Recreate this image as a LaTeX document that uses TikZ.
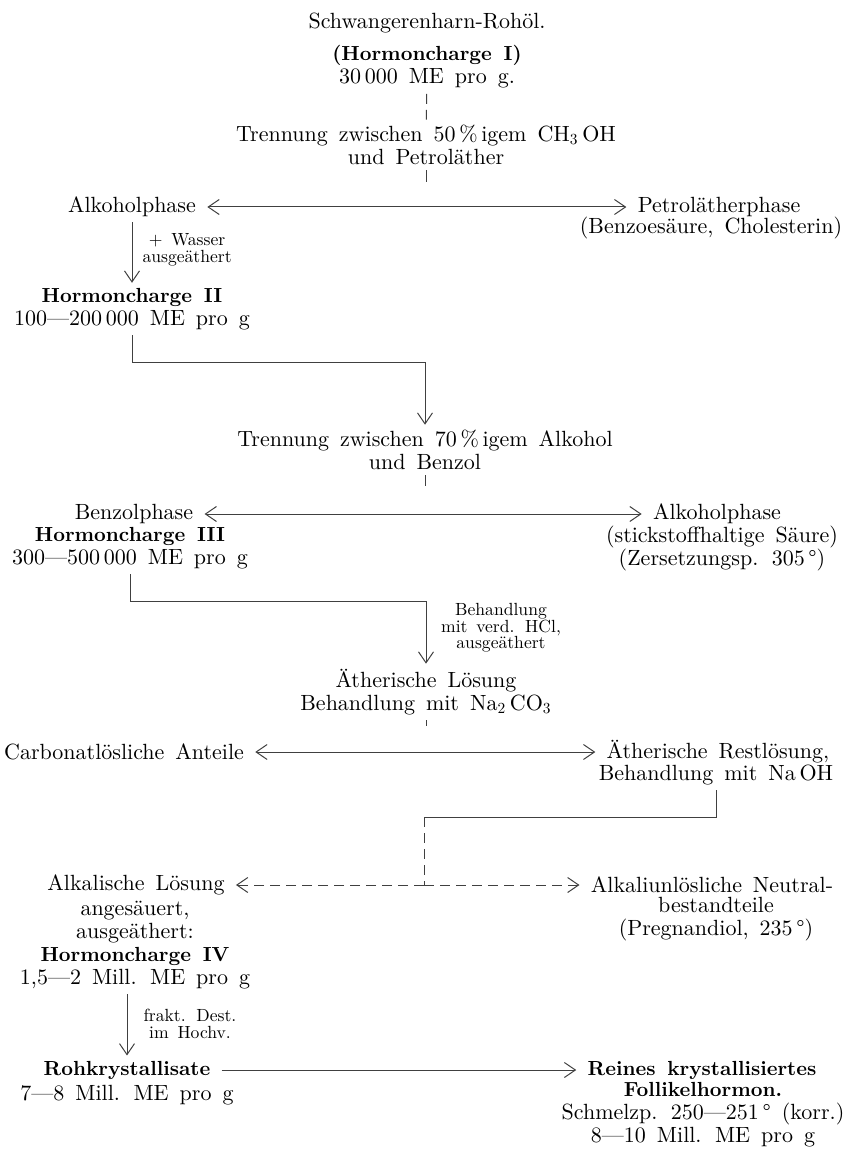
\documentclass[tikz,border=0pt]{standalone}
\usepackage{fontspec}
\setmainfont{lmroman10-regular.otf}[BoldFont=lmroman10-bold.otf, WordSpace=1.5]
\usetikzlibrary{arrows.meta}
\setlength{\lineskiplimit}{-20pt}
\newcommand{\hfett}[1]{{\fontsize{10.2}{11.5}\selectfont\bfseries #1}}

\begin{document}
\begin{tikzpicture}[x=0.5pt, y=-0.5pt, >={Straight Barb[length=5.5pt,width=7.5pt]},
    every node/.style={font=\fontsize{11}{11.5}\selectfont, inner sep=2.5pt, align=center},
    linie/.style={draw=black!75, line width=0.5pt},
    quer/.style={linie, shorten <=3pt, shorten >=3pt},
    schwach/.style={linie, dash pattern=on 5pt off 3pt},
    notiz/.style={font=\fontsize{8.8}{8.3}\selectfont, inner sep=1pt, align=center}]
    \useasboundingbox (0,0) rectangle (844,1150);

    % 1. Ausgangsmaterial und erste Trennung
    \node (titel) at (427,23) {Schwangerenharn-Rohöl.};
    \node (hc1) at (427,67) {\hfett{(Hormoncharge I)}\\30\,000 ME pro g.};
    \node (trenn50) at (426,145) {Trennung zwischen 50\,\%\,igem CH\textsubscript{3}\,OH\\und Petroläther};
    \coordinate (teil1) at (426,182);
    \draw[schwach] (hc1) -- (trenn50);
    \draw[linie] (trenn50) -- (teil1);

    \node (alk1) at (132,207) {Alkoholphase};
    \node (petrol1) at (719,207) {Petrolätherphase};
    \node (petrol2) at (711,228) {(Benzoesäure, Cholesterin)};
    \draw[quer,<->] (alk1) -- (petrol1);

    % 2. Hormoncharge II
    \node (hc2) at (132,309) {\hfett{Hormoncharge II}\\100---200\,000 ME pro g};
    \draw[linie,->] (alk1) -- (hc2)
        node[notiz, right=4pt, pos=0.45] {+ Wasser\\ausgeäthert};
    \coordinate (knick2) at (132,362);
    \node (trenn70) at (425,450) {Trennung zwischen 70\,\%\,igem Alkohol\\und Benzol};
    \draw[linie,->] (hc2) -- (knick2) -| (trenn70);
    \coordinate (teil2) at (425,486);
    \draw[linie] (trenn70) -- (teil2);

    % 3. Benzolphase / Hormoncharge III
    \node (benz) at (134,514) {Benzolphase};
    \node (alk2) at (717,514) {Alkoholphase};
    \node (alk2b) at (722,548) {(stickstoffhaltige Säure)\\(Zersetzungsp. 305\,°)};
    \draw[quer,<->] (benz) -- (alk2);
    \node (hc3) at (130,548) {\hfett{Hormoncharge III}\\300---500\,000 ME pro g};

    \node (aeth) at (426,692) {Ätherische Lösung\\Behandlung mit Na\textsubscript{2}\,CO\textsubscript{3}};
    \coordinate (knick3) at (130,601);
    \draw[linie,->] (hc3) -- (knick3) -| (aeth);
    \node[notiz] (hcl) at (501,628) {Behandlung\\mit verd. HCl,\\ausgeäthert};
    \coordinate (teil3) at (426,726);
    \draw[linie] (aeth) -- (teil3);

    % 4. Carbonat- und Laugenbehandlung
    \node (carb) at (124,752) {Carbonatlösliche Anteile};
    \node (rest1) at (718,752) {Ätherische Restlösung,};
    \node (rest2) at (716,775) {Behandlung mit Na\,OH};
    \draw[quer,<->] (carb) -- (rest1);
    \coordinate (knick4) at (424,817);
    \coordinate (teil4) at (424,885);
    \draw[linie] (rest2) |- (knick4);
    \draw[schwach] (knick4) -- (teil4);

    \node (alk3) at (136,885) {Alkalische Lösung};
    \node (neutral1) at (712,885) {Alkaliunlösliche Neutral-};
    \node (neutral2) at (716,919) {bestandteile\\(Pregnandiol, 235\,°)};
    \draw[schwach,->,shorten >=3pt] (teil4) -- (alk3);
    \draw[schwach,->,shorten >=3pt] (teil4) -- (neutral1);

    % 5. Hormoncharge IV und Endprodukt
    \node (hc4) at (135,945) {angesäuert,\\ausgeäthert:\\\hfett{Hormoncharge IV}\\1,5---2 Mill. ME pro g};
    \node (rohkr) at (127,1070) {\hfett{Rohkrystallisate}};
    \node (rohkr2) at (127,1095) {7---8 Mill. ME pro g};
    \draw[linie,->] (rohkr.north |- hc4.south) -- (rohkr);
    \node[notiz] (dest) at (190,1024) {frakt. Dest.\\im Hochv.};

    \node (reines) at (702,1070) {\hfett{Reines krystallisiertes}};
    \node (reines2) at (703,1115) {\hfett{Follikelhormon.}\\Schmelzp. 250---251\,° (korr.)\\8---10 Mill. ME pro g};
    \draw[quer,->] (rohkr) -- (reines);
\end{tikzpicture}
\end{document}
